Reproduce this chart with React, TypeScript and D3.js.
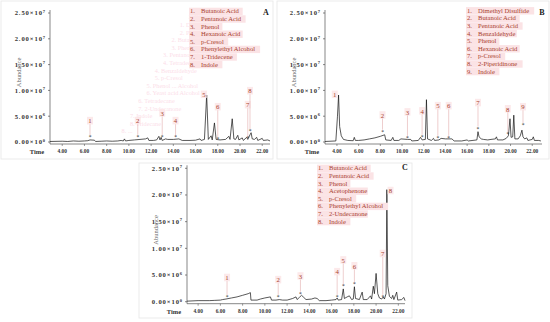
import React from 'react';
import * as d3 from 'd3';

// chromatogram traces: [retention time (min), abundance (x1e6)]
const traceA: [number, number][] = [
  [2.9, 0.1], [4.0, 0.15], [4.5, 0.1], [5.0, 0.2], [5.5, 0.15], [6.0, 0.2], [6.3, 0.25], [6.5, 0.4],
  [6.9, 0.35], [7.0, 0.1], [7.5, 0.15], [8.0, 0.2], [8.5, 0.15], [9.0, 0.2], [9.3, 0.3], [9.5, 0.2],
  [9.6, 0.6], [9.7, 0.2], [10.0, 0.3], [10.5, 0.4], [11.0, 0.5], [11.5, 0.6], [11.7, 0.8], [11.8, 0.3],
  [12.2, 0.3], [12.5, 0.4], [12.7, 1.1], [12.8, 0.4], [12.9, 0.9], [13.0, 0.3], [13.3, 0.6], [13.5, 0.5],
  [14.0, 0.5], [14.5, 0.6], [14.8, 0.3], [15.5, 0.3], [16.0, 0.35], [16.4, 0.6], [16.5, 0.3], [16.8, 0.5],
  [17.0, 9.1], [17.15, 0.5], [17.4, 1.2], [17.5, 0.4], [17.7, 3.7], [17.85, 0.5], [18.2, 0.4], [18.7, 0.5],
  [19.0, 1.1], [19.1, 0.5], [19.3, 4.5], [19.45, 0.6], [19.6, 0.5], [19.8, 1.3], [19.9, 0.4], [20.2, 0.8],
  [20.3, 0.3], [20.6, 0.9], [20.7, 0.5], [20.9, 1.4], [21.0, 1.8], [21.1, 0.6], [21.3, 0.5], [21.5, 0.9],
  [21.6, 0.3], [22.0, 0.7], [22.1, 0.3], [22.5, 0.4], [22.7, 0.2],
];

const traceB: [number, number][] = [
  [2.9, 0.1], [3.9, 0.2], [4.05, 5], [4.15, 9.1], [4.25, 3], [4.4, 1.2], [4.6, 0.5], [5.0, 0.3],
  [5.5, 0.25], [5.6, 0.9], [5.7, 0.3], [6.0, 0.3], [6.5, 0.4], [7.0, 0.6], [7.5, 0.8], [8.0, 1.1],
  [8.4, 1.4], [8.5, 0.4], [9.0, 0.3], [9.15, 0.9], [9.25, 0.3], [9.7, 0.3], [9.9, 0.6], [10.5, 0.5],
  [10.8, 0.5], [10.9, 0.2], [11.5, 0.3], [11.7, 0.9], [11.85, 0.4], [12.15, 0.5], [12.25, 8.2], [12.35, 0.6],
  [12.7, 0.3], [12.9, 0.7], [13.0, 0.3], [13.4, 0.4], [13.6, 0.7], [14.0, 0.6], [14.6, 0.6], [14.8, 0.2],
  [15.5, 0.2], [16.0, 0.4], [16.1, 0.2], [16.9, 0.4], [17.0, 2.0], [17.1, 1.0], [17.3, 0.6], [17.5, 0.5],
  [17.9, 0.4], [18.2, 0.5], [18.6, 0.6], [18.7, 1.0], [18.8, 0.4], [19.3, 0.4], [19.6, 0.7], [19.8, 1.2],
  [19.95, 4.5], [20.05, 0.9], [20.2, 1.0], [20.3, 5.2], [20.4, 0.6], [20.7, 0.6], [20.9, 1.2], [21.05, 2.3],
  [21.15, 1.0], [21.3, 0.6], [21.5, 0.8], [21.6, 0.3], [22.0, 0.5], [22.1, 1.0], [22.2, 0.3], [22.6, 0.3],
  [22.8, 0.2],
];

const traceC: [number, number][] = [
  [3.0, 0.1], [4.0, 0.2], [5.0, 0.2], [5.5, 0.25], [6.0, 0.3], [6.2, 0.4], [6.5, 0.5], [7.0, 0.7],
  [7.5, 0.9], [8.0, 1.2], [8.5, 1.5], [8.7, 1.7], [8.75, 0.3], [9.3, 0.3], [9.6, 0.5], [10.0, 0.7],
  [10.5, 0.9], [10.6, 0.3], [11.0, 0.3], [11.3, 0.4], [11.6, 0.3], [12.0, 0.3], [12.5, 0.6], [12.8, 0.9],
  [12.9, 0.4], [13.1, 0.8], [13.3, 1.2], [13.5, 0.8], [13.7, 0.4], [14.2, 0.5], [14.5, 0.7], [14.7, 0.6],
  [14.9, 0.2], [15.5, 0.2], [16.0, 0.3], [16.4, 0.4], [16.5, 0.7], [16.6, 0.3], [16.9, 0.4], [17.05, 2.4],
  [17.15, 0.6], [17.4, 0.9], [17.6, 1.1], [17.8, 0.4], [17.95, 0.5], [18.05, 2.8], [18.15, 0.6], [18.5, 0.4],
  [18.75, 1.8], [18.85, 0.4], [19.2, 0.4], [19.5, 1.1], [19.6, 0.5], [19.75, 2.9], [19.85, 1.5], [20.0, 5.3],
  [20.15, 1.5], [20.3, 0.7], [20.5, 0.5], [20.65, 0.9], [20.75, 0.5], [20.9, 1.5], [20.97, 21], [21.05, 3],
  [21.2, 1.0], [21.4, 0.6], [21.5, 1.2], [21.6, 0.4], [21.85, 1.8], [21.95, 0.3], [22.3, 0.4], [22.5, 0.8],
  [22.6, 0.2],
];

// peak annotations: number, time, label height, star height (x1e6)
type Peak = { n: number; t: number; label: number; star: number | null };
const peaksA: Peak[] = [
  { n: 1, t: 6.5, label: 3.9, star: 0.9 },
  { n: 2, t: 10.8, label: 3.9, star: 1.0 },
  { n: 3, t: 13.0, label: 5.4, star: 0.9 },
  { n: 4, t: 14.2, label: 3.9, star: 0.9 },
  { n: 5, t: 16.75, label: 9.0, star: null },
  { n: 6, t: 18.0, label: 6.6, star: 0.6 },
  { n: 7, t: 20.7, label: 7.0, star: 0.7 },
  { n: 8, t: 20.9, label: 9.7, star: 2.1 },
];
const peaksB: Peak[] = [
  { n: 1, t: 3.8, label: 9.0, star: null },
  { n: 2, t: 8.2, label: 5.0, star: 2.0 },
  { n: 3, t: 10.5, label: 5.6, star: 0.8 },
  { n: 4, t: 11.85, label: 5.8, star: 1.0 },
  { n: 5, t: 13.3, label: 6.8, star: 0.8 },
  { n: 6, t: 14.3, label: 6.8, star: 0.8 },
  { n: 7, t: 17.0, label: 7.4, star: 2.6 },
  { n: 8, t: 19.75, label: 6.2, star: 1.5 },
  { n: 9, t: 21.15, label: 6.6, star: 3.3 },
];
const peaksC: Peak[] = [
  { n: 1, t: 6.6, label: 4.3, star: 0.9 },
  { n: 2, t: 11.2, label: 3.9, star: 0.9 },
  { n: 3, t: 13.2, label: 4.6, star: 1.5 },
  { n: 4, t: 16.5, label: 5.4, star: 0.9 },
  { n: 5, t: 17.05, label: 7.6, star: 2.9 },
  { n: 6, t: 18.05, label: 6.5, star: 3.3 },
  { n: 7, t: 20.6, label: 8.8, star: 0.9 },
  { n: 8, t: 21.3, label: 20.6, star: null },
];

const legendA = ['Butanoic Acid', 'Pentanoic Acid', 'Phenol', 'Hexanoic Acid', 'p-Cresol', 'Phenylethyl Alcohol', '1-Tridecene', 'Indole'];
const legendB = ['Dimethyl Disulfide', 'Butanoic Acid', 'Pentanoic Acid', 'Benzaldehyde', 'Phenol', 'Hexanoic Acid', 'p-Cresol', '2-Piperidinone', 'Indole'];
const legendC = ['Butanoic Acid', 'Pentanoic Acid', 'Phenol', 'Acetophenone', 'p-Cresol', 'Phenylethyl Alcohol', '2-Undecanone', 'Indole'];

// faint overprinted text visible in panel A
const ghostA = ['1. Dimethyl Disulfide', '1. Di...  ...ide', '2. Py...  ...', '2. Butanoic Acid', '3. Phenol', '3. Pentanoic Acid',
  '4. Tetradecanoic', '4. Benzaldehyde', '5. p-Cresol', '5. Phenol  ...  Alcohol', '6. Yeast acid Alcohol', '6. Tetradecane',
  '7. 2-Undecanone', '7. Indole', '8. Tridecane', '8. ...'];

const yTicks = [0, 5, 10, 15, 20, 25];
const yTickMantissa = ['0.00', '5.00', '1.00', '1.50', '2.00', '2.50'];
const yTickExp = ['0', '6', '7', '7', '7', '7'];
const xTicks = [4, 6, 8, 10, 12, 14, 16, 18, 20, 22];

const serif = '"Liberation Serif", "DejaVu Serif", serif';
const labelColor = '#a8412f';
const pink = '#fbe3e5';

type Layout = { ox: number; oy: number; w: number; h: number; left: number; right: number; base: number; top: number; tDomain: [number, number]; legendX: number; legendY: number };

const layoutA: Layout = { ox: 1, oy: 1, w: 272, h: 158, left: 50, right: 270, base: 142, top: 13, tDomain: [2.9, 22.7], legendX: 190, legendY: 13.3 };
const layoutB: Layout = { ox: 277, oy: 1, w: 272, h: 158, left: 325, right: 542, base: 142, top: 13, tDomain: [2.9, 22.9], legendX: 467, legendY: 12.7 };
const layoutC: Layout = { ox: 139, oy: 163, w: 273, h: 155, left: 187, right: 405, base: 301.7, top: 168.3, tDomain: [3.0, 22.6], legendX: 318, legendY: 170.3 };

function Panel({ layout, trace, peaks, legend, letter, ghost }: { layout: Layout; trace: [number, number][]; peaks: Peak[]; legend: string[]; letter: string; ghost?: string[] }) {
  const x = d3.scaleLinear().domain(layout.tDomain).range([layout.left, layout.right]);
  const y = d3.scaleLinear().domain([0, 25]).range([layout.base, layout.top]);
  const line = d3.line<[number, number]>().x((d) => x(d[0])).y((d) => y(d[1]));
  const axisY = layout.base + 2;

  return (
    <g>
      <rect x={layout.ox} y={layout.oy} width={layout.w} height={layout.h} fill="#fff" stroke="#e6e6e6" strokeWidth={0.8} />

      {ghost &&
        ghost.map((g, i) => (
          <text key={'g' + i} x={layout.legendX - 2 - Math.floor((i + 1) / 2) * 8.3} y={layout.legendY + 7.6 * (i + 1) - 1.5}
            fontFamily={serif} fontSize={6.3} fill="#f48fb1" opacity={0.3}>{g}</text>
        ))}

      {/* y axis */}
      <line x1={layout.left} x2={layout.left} y1={layout.top - 3} y2={axisY} stroke="#555" strokeWidth={0.7} />
      {yTicks.map((t, i) => (
        <g key={'y' + t}>
          <line x1={layout.left - 2} x2={layout.left} y1={y(t)} y2={y(t)} stroke="#555" strokeWidth={0.7} />
          <text x={layout.left - 4} y={y(t) + 2.3} textAnchor="end" fontFamily={serif} fontWeight="bold" fontSize={6.6} letterSpacing={0.9} fill="#333">
            {yTickMantissa[i]}×10<tspan dy={-2.5} fontSize={4.5}>{yTickExp[i]}</tspan>
          </text>
        </g>
      ))}
      <text transform={`translate(${layout.left - 29},${(layout.top + layout.base) / 2 - 5}) rotate(-90)`} textAnchor="middle"
        fontFamily={serif} fontSize={6.5} fill="#666">Abundance</text>

      {/* x axis */}
      <line x1={layout.left} x2={layout.right} y1={axisY} y2={axisY} stroke="#555" strokeWidth={0.7} />
      {xTicks.map((t) => (
        <g key={'x' + t}>
          <line x1={x(t)} x2={x(t)} y1={axisY} y2={axisY + 2} stroke="#555" strokeWidth={0.6} />
          <text x={x(t)} y={axisY + 9} textAnchor="middle" fontFamily={serif} fontWeight="bold" fontSize={5.4} fill="#333">{t.toFixed(2)}</text>
        </g>
      ))}
      <text x={layout.left - 13} y={axisY + 10} textAnchor="middle" fontFamily={serif} fontWeight="bold" fontSize={6.5} fill="#333">Time</text>

      {/* trace */}
      <path d={line(trace) || ''} fill="none" stroke="#111" strokeWidth={0.7} strokeLinejoin="round" />

      {/* peak labels */}
      {peaks.map((p) => (
        <g key={'p' + p.n}>
          {p.star !== null && (
            <>
              <line x1={x(p.t)} x2={x(p.t)} y1={y(p.label) + 2} y2={y(p.star) - 2} stroke="#e7b9b9" strokeWidth={0.7} />
              <text x={x(p.t)} y={y(p.star) + 2} textAnchor="middle" fontFamily={serif} fontSize={5.5} fill="#222">*</text>
            </>
          )}
          <rect x={x(p.t) - 3} y={y(p.label) - 5} width={6} height={7.5} fill={pink} opacity={0.8} />
          <text x={x(p.t)} y={y(p.label) + 1.5} textAnchor="middle" fontFamily={serif} fontSize={6.8} fill={labelColor}>{p.n}</text>
        </g>
      ))}

      {/* legend */}
      {legend.map((name, i) => (
        <g key={'l' + i}>
          <rect x={layout.legendX - 1} y={layout.legendY + 7.6 * i - 5.6} width={name.length * 2.9 + 16} height={7.4} fill={pink} />
          <text x={layout.legendX} y={layout.legendY + 7.6 * i} fontFamily={serif} fontSize={6.6} fill={labelColor}>{i + 1}.</text>
          <text x={layout.legendX + 11} y={layout.legendY + 7.6 * i} fontFamily={serif} fontSize={6.6} fill={labelColor}>{name}</text>
        </g>
      ))}

      <text x={layout.ox + layout.w - 7} y={layout.top + 2} textAnchor="middle" fontFamily={serif} fontWeight="bold" fontSize={8} fill="#222">{letter}</text>
    </g>
  );
}

export default function App() {
  return (
    <svg width={550} height={322} style={{ position: 'absolute', left: 0, top: 0, background: '#fff' }}>
      <Panel layout={layoutA} trace={traceA} peaks={peaksA} legend={legendA} letter="A" ghost={ghostA} />
      <Panel layout={layoutB} trace={traceB} peaks={peaksB} legend={legendB} letter="B" />
      <Panel layout={layoutC} trace={traceC} peaks={peaksC} legend={legendC} letter="C" />
    </svg>
  );
}
